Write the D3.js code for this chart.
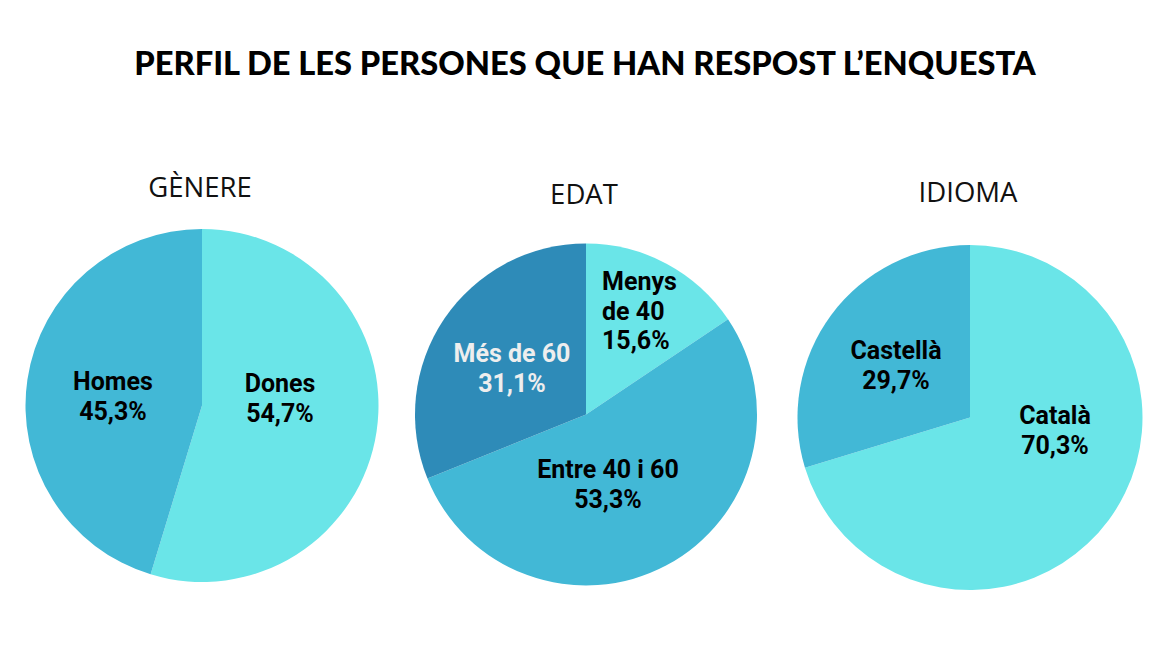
<!DOCTYPE html>
<html>
<head>
<meta charset="utf-8">
<script src="https://cdn.jsdelivr.net/npm/d3@7"></script>
<style>
  body { margin: 0; background: #fff; }
  .title { font-family: Lato, "Open Sans", sans-serif; font-weight: 900; }
  .sub { font-family: "Open Sans", sans-serif; fill: #111; }
  .lbl { font-family: Roboto, sans-serif; font-weight: 700; }
</style>
</head>
<body>
<div id="chart"></div>
<script>
"use strict"

// Data
const chartTitle = "PERFIL DE LES PERSONES QUE HAN RESPOST L’ENQUESTA";
const pieTitles = ["GÈNERE", "EDAT", "IDIOMA"];

const genereLabels = [["Dones"], ["Homes"]];
const genereValues = [54.7, 45.3];

const edatLabels = [["Menys", "de 40"], ["Entre 40 i 60"], ["Més de 60"]];
const edatValues = [15.6, 53.3, 31.1];

const idiomaLabels = [["Català"], ["Castellà"]];
const idiomaValues = [70.3, 29.7];

const width = 1170, height = 658;
const light = "#6ae5e8", mid = "#42b8d6", dark = "#2e8bb8";

// layout of each pie: centre, radius, title baseline, label anchors and colours
const pies = [
    {labels: genereLabels, values: genereValues, cx: 202, cy: 405.5, r: 176.5,
     titleY: 197, colors: [light, mid],
     textPos: [{x: 280, y: 392, anchor: "middle"}, {x: 113, y: 390, anchor: "middle"}],
     textColor: ["#000", "#000"]},
    {labels: edatLabels, values: edatValues, cx: 586, cy: 414.5, r: 171,
     titleY: 204, colors: [light, mid, dark],
     textPos: [{x: 602, y: 290, anchor: "start"}, {x: 608, y: 478, anchor: "middle"}, {x: 512, y: 362, anchor: "middle"}],
     textColor: ["#000", "#000", "#eeeeee"]},
    {labels: idiomaLabels, values: idiomaValues, cx: 970, cy: 417.5, r: 172.5,
     titleY: 202, colors: [light, mid],
     textPos: [{x: 1055, y: 424, anchor: "middle"}, {x: 896, y: 359, anchor: "middle"}],
     textColor: ["#000", "#000"]}
];

const fmt = v => d3.format(".1f")(v).replace(".", ",") + "%";

const svg = d3.select("#chart").append("svg")
    .attr("width", width)
    .attr("height", height);

// title: fit to the reference width (about 902px) without stretching glyphs
const title = svg.append("text")
    .attr("class", "title")
    .attr("x", 585)
    .attr("y", 75)
    .attr("text-anchor", "middle")
    .attr("font-size", 38)
    .text(chartTitle);
const natural = title.node().getComputedTextLength();
if (natural > 902) {
    title.attr("font-size", 38 * 902 / natural);
} else {
    title.attr("letter-spacing", (902 - natural) / (chartTitle.length - 1));
}

pies.forEach((p, i) => {
    const g = svg.append("g")
        .attr("transform", `translate(${p.cx}, ${p.cy})`);

    const pie = d3.pie().sort(null).value(d => d);
    const arc = d3.arc().innerRadius(0).outerRadius(p.r);

    g.selectAll("path")
        .data(pie(p.values))
        .enter().append("path")
            .attr("d", arc)
            .attr("fill", (d, j) => p.colors[j]);

    svg.append("text")
        .attr("class", "sub")
        .attr("x", p.cx - 2)
        .attr("y", p.titleY)
        .attr("text-anchor", "middle")
        .attr("font-size", 27.5)
        .text(pieTitles[i]);

    // slice labels: name lines followed by the percentage
    p.values.forEach((v, j) => {
        const pos = p.textPos[j];
        const lines = p.labels[j].concat([fmt(v)]);
        const t = svg.append("text")
            .attr("class", "lbl")
            .attr("font-size", 25)
            .attr("fill", p.textColor[j])
            .attr("text-anchor", pos.anchor);
        lines.forEach((line, k) => {
            t.append("tspan")
                .attr("x", pos.x)
                .attr("y", pos.y + k * 29.5)
                .text(line);
        });
    });
});
</script>
</body>
</html>
